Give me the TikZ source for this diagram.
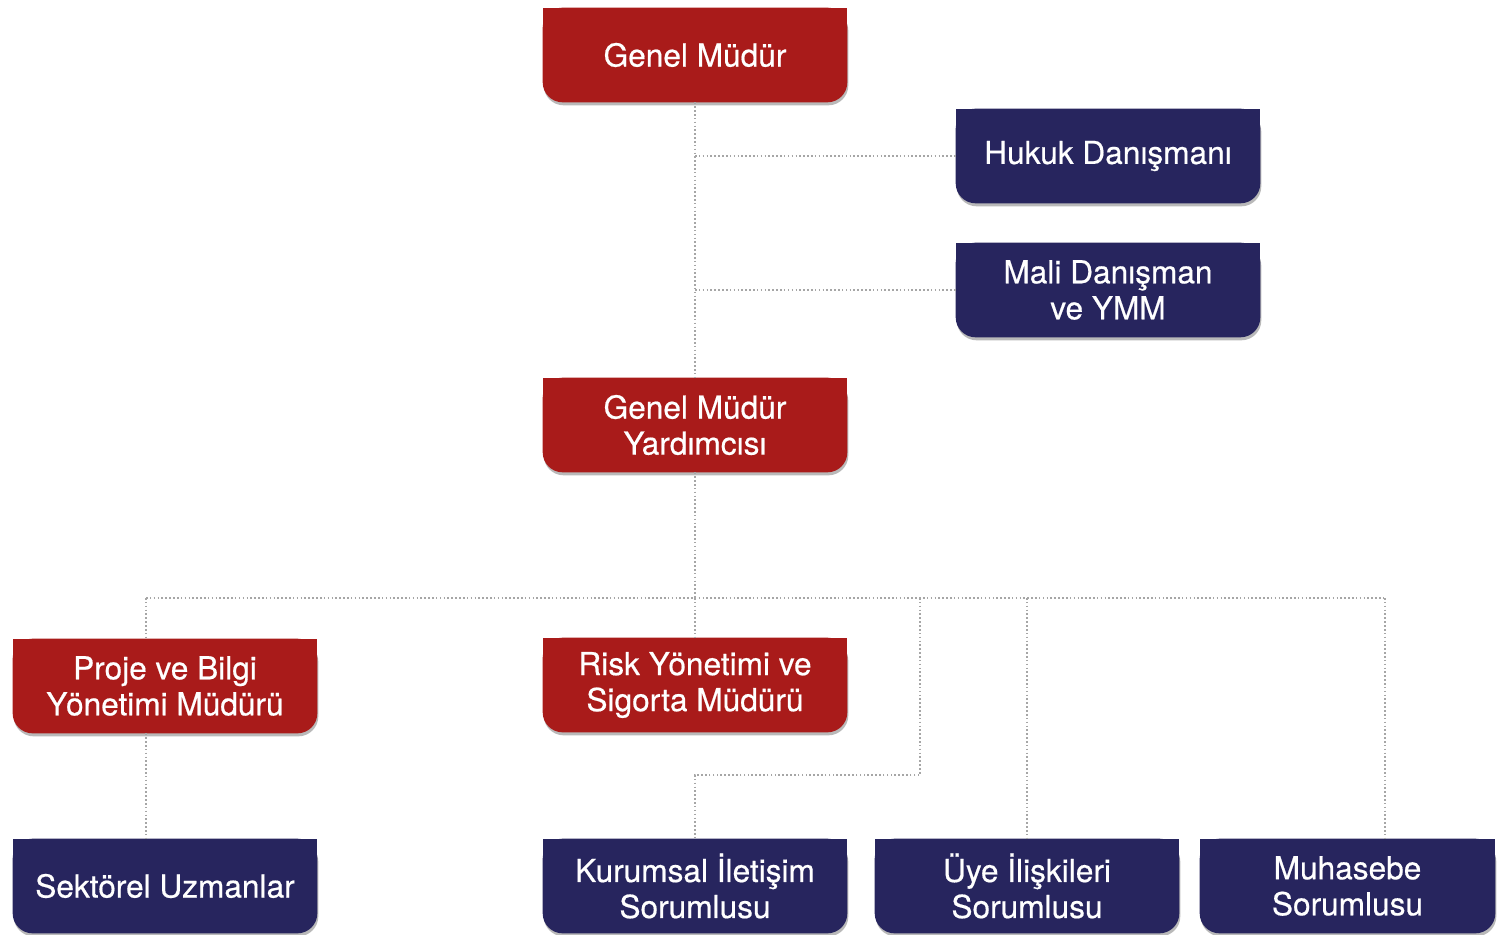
\documentclass[tikz,border=0pt]{standalone}
\usepackage{fontspec}
\setmainfont{TeX Gyre Heros}
\newfontfamily\boxfont[FakeBold=0.5]{TeX Gyre Heros}
\usetikzlibrary{backgrounds}
\definecolor{headred}{HTML}{A91B1A}
\definecolor{staffblue}{HTML}{27255E}

\begin{document}
\begin{tikzpicture}[x=0.02cm, y=-0.02cm,
  box/.style={minimum width=6.08cm, minimum height=1.88cm, inner sep=0pt,
    align=center, text=white, font=\boxfont\fontsize{18}{20.5}\selectfont},
  conn/.style={gray!70, line width=0.9pt, dash pattern=on 0.9pt off 1.3pt}]
  \useasboundingbox (0,0) rectangle (1497,935);

  % Boxes
  \node[box] (gm) at (695,55) {Genel Müdür};
  \node[box] (hukuk) at (1108,156) {Hukuk Danışmanı};
  \node[box] (mali) at (1108,290) {Mali Danışman\\ve YMM};
  \node[box] (gmy) at (695,425) {Genel Müdür\\Yardımcısı};
  \node[box] (proje) at (165,686) {Proje ve Bilgi\\Yönetimi Müdürü};
  \node[box] (risk) at (695,685) {Risk Yönetimi ve\\Sigorta Müdürü};
  \node[box] (sektor) at (165,886) {Sektörel Uzmanlar};
  \node[box] (kurumsal) at (695,886) {Kurumsal İletişim\\Sorumlusu};
  \node[box] (uye) at (1027,886) {Üye İlişkileri\\Sorumlusu};
  \node[box, minimum width=5.9cm] (muhasebe) at (1347.5,886) {Muhasebe\\Sorumlusu};

  % Box fills: square top, rounded bottom, with shadow
  \begin{scope}[on background layer]
    \foreach \n/\c in {gm/headred, hukuk/staffblue, mali/staffblue, gmy/headred,
        proje/headred, risk/headred, sektor/staffblue, kurumsal/staffblue,
        uye/staffblue, muhasebe/staffblue} {
      \fill[gray!55, rounded corners=0.4cm]
        ([shift={(1,3)}]\n.north west) rectangle ([shift={(1,3)}]\n.south east);
      \fill[\c, rounded corners=0.4cm] (\n.north west) rectangle (\n.south east);
      \fill[\c] (\n.north west) rectangle (\n.east);
    }
  \end{scope}

  % Bus points
  \coordinate (bus) at (695,598);
  \coordinate (busl) at (146,598);
  \coordinate (busr) at (1385,598);
  \coordinate (busk) at (920,598);
  \coordinate (kbend) at (920,775);

  % Connectors
  \draw[conn] (gm) -- (gmy);
  \draw[conn] (gm.south |- hukuk) -- (hukuk);
  \draw[conn] (gm.south |- mali) -- (mali);
  \draw[conn] (gmy) -- (bus);
  \draw[conn] (busl) -- (busr);
  \draw[conn] (busl) -- (busl |- proje.north);
  \draw[conn] (bus) -- (risk);
  \draw[conn] (busl |- proje.south) -- (busl |- sektor.north);
  \draw[conn] (busk) -- (kbend) -| (kurumsal.north);
  \draw[conn] (uye.north |- bus) -- (uye);
  \draw[conn] (busr) -- (busr |- muhasebe.north);
\end{tikzpicture}
\end{document}
